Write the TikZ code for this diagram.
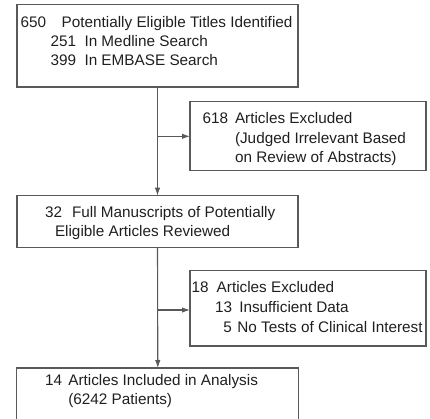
\documentclass[tikz,border=0pt]{standalone}
\usepackage{fontspec}
\setmainfont{Liberation Sans}
\usetikzlibrary{arrows.meta}
\definecolor{linegray}{gray}{0.35}
\definecolor{txt}{gray}{0.12}
\tikzset{
  box/.style={draw=linegray, line width=1.1pt, inner sep=0pt, outer sep=0pt, rectangle},
  lbl/.style={anchor=base west, inner sep=0pt, outer sep=0pt, text=txt, font=\fontsize{15.3pt}{18pt}\selectfont},
  conn/.style={draw=linegray, line width=1.1pt},
  arr/.style={conn, -{Latex[length=8pt,width=5.5pt]}},
}
\begin{document}
\begin{tikzpicture}[x=1pt,y=-1pt]
\useasboundingbox (0,0) rectangle (430,419);
\clip (0,0) rectangle (430,419);
% boxes
\node[box, minimum width=281pt, minimum height=82.5pt] (b1) at (157.5,45.75) {};
\node[box, minimum width=236pt, minimum height=69.3pt] (b2) at (308,136.3) {};
\node[box, minimum width=281pt, minimum height=51.6pt] (b3) at (157.5,221.5) {};
\node[box, minimum width=236pt, minimum height=75.5pt] (b4) at (308,308.2) {};
\node[box, minimum width=282pt, minimum height=80pt] (b5) at (157.8,408) {};
% box 1 text
\node[lbl] (n1a) at (20.7,27.3) {650};
\node[lbl] (t1a) at (61.7,27.3) {Potentially Eligible Titles Identified};
\node[lbl] (n1b) at (50.7,46.7) {251};
\node[lbl] (t1b) at (84.5,46.7) {In Medline Search};
\node[lbl] (n1c) at (50.7,66) {399};
\node[lbl] (t1c) at (84.5,66) {In EMBASE Search};
% box 2 text
\node[lbl] (n2a) at (202.7,123.3) {618};
\node[lbl] (t2a) at (235,123.3) {Articles Excluded};
\node[lbl] (t2b) at (235,143.3) {(Judged Irrelevant Based};
\node[lbl] (t2c) at (235,162.7) {on Review of Abstracts)};
% box 3 text
\node[lbl] (n3a) at (45,217.3) {32};
\node[lbl] (t3a) at (72,217.3) {Full Manuscripts of Potentially};
\node[lbl] (t3b) at (55,236.7) {Eligible Articles Reviewed};
% box 4 text
\node[lbl] (n4a) at (191.7,292.7) {18};
\node[lbl] (t4a) at (216.7,292.7) {Articles Excluded};
\node[lbl] (n4b) at (215,312.7) {13};
\node[lbl] (t4b) at (239.3,312.7) {Insufficient Data};
\node[lbl] (n4c) at (223.3,332.7) {5};
\node[lbl] (t4c) at (237.3,332.7) {No Tests of Clinical Interest};
% box 5 text
\node[lbl] (n5a) at (45,385) {14};
\node[lbl] (t5a) at (68.3,385) {Articles Included in Analysis};
\node[lbl] (t5b) at (68.3,404) {(6242 Patients)};
% connectors
\coordinate (j1) at (b1.south |- b2.west);
\coordinate (j2) at (157.5,310);
\draw[arr] (b1.south) -- (b3.north);
\draw[arr] (j1) -- (b2.west);
\draw[arr] (b3.south) -- (b5.north);
\draw[arr] (j2) -- (j2 -| b4.west);
\end{tikzpicture}
\end{document}
